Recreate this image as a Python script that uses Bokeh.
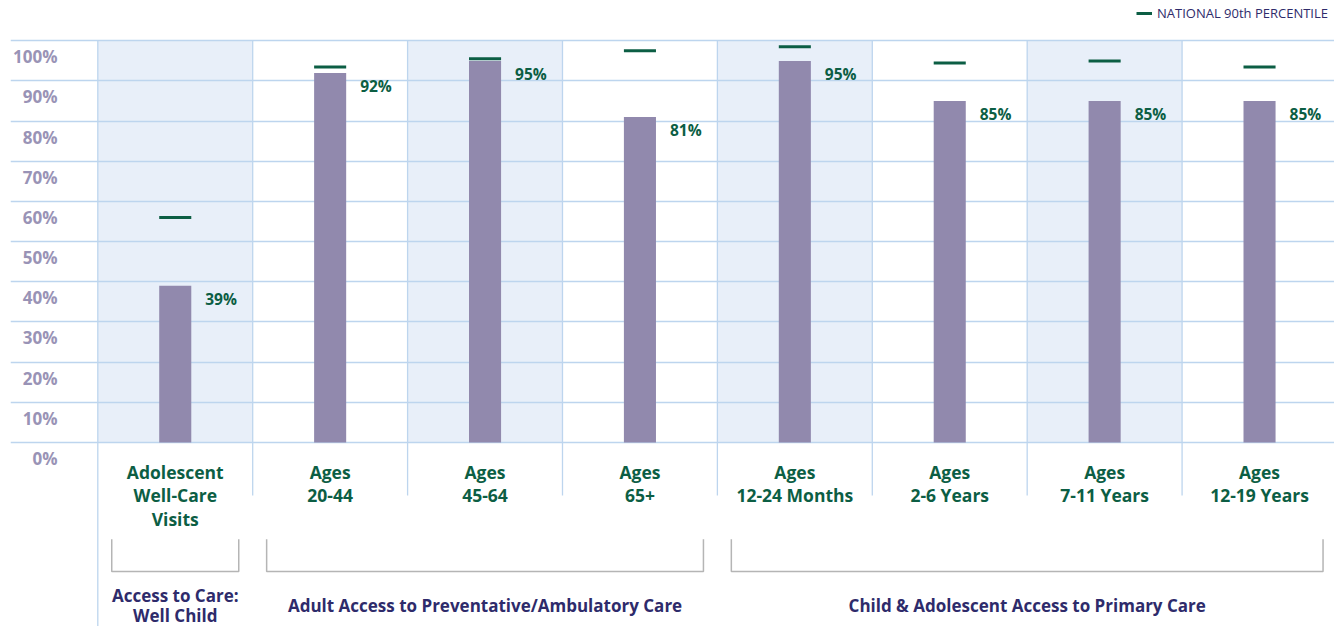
from bokeh.plotting import figure
from bokeh.models import Range1d, FixedTicker, Grid, Legend, LegendItem
from bokeh.core.properties import value
from bokeh.embed import file_html
from bokeh.resources import INLINE

# ---------------- data ----------------
categories = ["Adolescent\nWell-Care\nVisits", "Ages\n20-44", "Ages\n45-64", "Ages\n65+",
              "Ages\n12-24 Months", "Ages\n2-6 Years", "Ages\n7-11 Years", "Ages\n12-19 Years"]
rates = [39, 92, 95, 81, 95, 85, 85, 85]
rate_labels = ["39%", "92%", "95%", "81%", "95%", "85%", "85%", "85%"]
national_90th = [56, 93.5, 95.5, 97.5, 98.5, 94.5, 95, 93.5]
groups = ["Access to Care:\nWell Child",
          "Adult Access to Preventative/Ambulatory Care",
          "Child & Adolescent Access to Primary Care"]
group_start = [0, 1, 4]
group_end = [1, 4, 8]
y_ticks = [0, 10, 20, 30, 40, 50, 60, 70, 80, 90, 100]
y_tick_labels = ["0%", "10%", "20%", "30%", "40%", "50%", "60%", "70%", "80%", "90%", "100%"]
legend_label = "NATIONAL 90th PERCENTILE"

# ---------------- style ----------------
FONT_NAME = "Open Sans"
FONT = value(FONT_NAME)
BAR = "#9189AD"
GREEN = "#0C5E44"
NAVY = "#2E2B6B"
GRID = "#BDD5EE"
SHADE = "#E8EFF9"
TICK = "#9993B6"
BRACKET = "#B5B5B5"

n = len(categories)
centers = [i + 0.5 for i in range(n)]

p = figure(width=1334, height=626, output_backend="svg", toolbar_location=None,
           x_range=Range1d(-0.5636, 7.984), y_range=Range1d(-45.8, 110.03),
           x_axis_location=None, y_axis_location=None,
           min_border_left=10, min_border_right=0, min_border_top=0, min_border_bottom=0)
p.outline_line_color = None
p.background_fill_color = "white"
p.border_fill_color = "white"
for g in p.grid:
    g.visible = False

# shaded alternating columns
shade_idx = [i for i in range(n) if i % 2 == 0]
p.quad(left=shade_idx, right=[i + 1 for i in shade_idx], bottom=0, top=100,
       fill_color=SHADE, line_color=None, level="image")

# horizontal grid
p.add_layout(Grid(dimension=1, ticker=FixedTicker(ticks=y_ticks),
                  grid_line_color=GRID, grid_line_width=1.3))

# vertical separators
sep_x = list(range(n + 1))
sep_bottom = [-45.8] + [-13.2] * n
p.segment(x0=sep_x, y0=[100] * (n + 1), x1=sep_x, y1=sep_bottom,
          line_color=GRID, line_width=1.3)

# bars
p.vbar(x=centers, top=rates, bottom=0, width=0.207, fill_color=BAR, line_color=None)

# national 90th percentile markers
p.rect(x=centers, y=national_90th, width=0.207, height=3, height_units="screen",
       fill_color=GREEN, line_color=None)

# value labels
p.text(x=centers, y=rates, text=rate_labels, x_offset=30, y_offset=13,
       text_font=FONT, text_font_style="bold", text_font_size="15.5px",
       text_color=GREEN, text_align="left", text_baseline="middle")

# y tick labels
p.text(x=[-0.26] * len(y_ticks), y=y_ticks, text=y_tick_labels, y_offset=16,
       text_font=FONT, text_font_style="bold", text_font_size="17px",
       text_color=TICK, text_align="right", text_baseline="middle")

# category labels
p.text(x=centers, y=[0] * n, text=categories, y_offset=17,
       text_font=FONT, text_font_style="bold", text_font_size="17.5px",
       text_color=GREEN, text_align="center", text_baseline="top",
       text_line_height=0.99)

# group brackets
inset = 0.09
xs = [[s + inset, s + inset, e - inset, e - inset] for s, e in zip(group_start, group_end)]
ys = [[-24.1, -32.1, -32.1, -24.1] for _ in groups]
p.multi_line(xs=xs, ys=ys, line_color=BRACKET, line_width=1.5)

# group titles
gx = [(s + e) / 2 for s, e in zip(group_start, group_end)]
p.text(x=gx, y=[-40.5] * len(groups), text=groups,
       text_font=FONT, text_font_style="bold", text_font_size="17px",
       text_color=NAVY, text_align="center", text_baseline="middle",
       text_line_height=0.88)

# legend
dummy = p.line(x=[-10, -9], y=[-300, -300], line_color=GREEN, line_width=3)
legend = Legend(items=[LegendItem(label=legend_label, renderers=[dummy])],
                location=(1126, 604), orientation="horizontal",
                glyph_width=16, glyph_height=10, label_standoff=5,
                padding=0, margin=0, spacing=0,
                border_line_alpha=0, background_fill_alpha=0,
                label_text_font=FONT_NAME, label_text_font_size="13px",
                label_text_color=NAVY, label_text_baseline="middle")
p.add_layout(legend)

open("out.html", "w").write(file_html(p, INLINE))
